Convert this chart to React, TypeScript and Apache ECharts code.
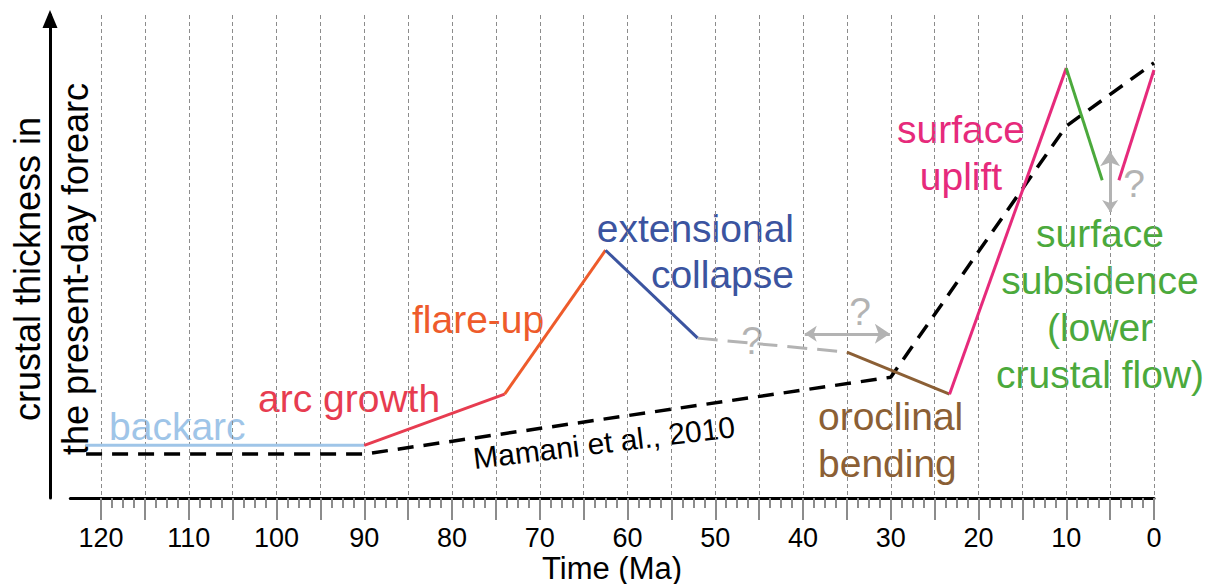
import React, { useEffect, useRef } from "react";
import * as echarts from "echarts";

const FONT = "'Liberation Sans', Arial, Helvetica, sans-serif";

// x: time (Ma), y: relative crustal thickness (arbitrary units 0–100)
const backarc = [[121.8, 10.9], [90, 10.9]];
const mamani2010 = [[121.7, 9.1], [90, 9.1], [30, 25.0], [10, 77.0], [0, 90.1]];
const arcGrowth = [[90, 10.9], [74, 21.5]];
const flareUp = [[74, 21.5], [62.5, 51.3]];
const extensionalCollapse = [[62.5, 51.3], [52, 33.1]];
const uncertainLink = [[52, 33.1], [35, 30.2]];
const oroclinalBending = [[35, 30.2], [23.3, 21.5]];
const surfaceUplift = [[23.3, 21.5], [10, 89.0]];
const surfaceSubsidence = [[10, 89.0], [5.9, 65.8]];
const surfaceUpliftLate = [[4.0, 65.8], [0, 88.6]];
const timingArrow = [[39.8, 34.0], [30.1, 34.0]];
const elevationArrow = [[5, 59.2], [5, 71.8]];

const timeAxisMax = 123.5; // full length of the drawn time axis
const labelledMax = 120; // last ticked / labelled age
const xLabelStep = 10;

const COLORS = {
  backarc: "#9fc5e8",
  arc: "#e73c50",
  flare: "#ee5b2b",
  ext: "#3b54a0",
  gray: "#b3b3b3",
  brown: "#8b5f35",
  pink: "#e62a7b",
  green: "#4ba93c",
  tick: "#8c8c8c",
};

type Lbl = { lines: string[]; color: string; x: number; y: number; align: string; size: number; gap: number };

const curveLabels: Lbl[] = [
  { lines: ["backarc"], color: COLORS.backarc, x: 109, y: 440, align: "left", size: 39, gap: 47 },
  { lines: ["arc growth"], color: COLORS.arc, x: 258, y: 412, align: "left", size: 39, gap: 47 },
  { lines: ["flare-up"], color: COLORS.flare, x: 412, y: 333, align: "left", size: 39, gap: 47 },
  { lines: ["extensional", "collapse"], color: COLORS.ext, x: 794, y: 242, align: "right", size: 39, gap: 46.5 },
  { lines: ["oroclinal", "bending"], color: COLORS.brown, x: 818, y: 430, align: "left", size: 39, gap: 46.7 },
  { lines: ["surface", "uplift"], color: COLORS.pink, x: 961, y: 143.3, align: "center", size: 39, gap: 46.7 },
  { lines: ["surface", "subsidence", "(lower", "crustal flow)"], color: COLORS.green, x: 1100, y: 246.7, align: "center", size: 39, gap: 47 },
  { lines: ["?"], color: COLORS.gray, x: 752, y: 354, align: "center", size: 39, gap: 0 },
  { lines: ["?"], color: COLORS.gray, x: 860, y: 325, align: "center", size: 39, gap: 0 },
  { lines: ["?"], color: COLORS.gray, x: 1134, y: 197, align: "center", size: 39, gap: 0 },
];

function textEl(text: string, x: number, y: number, color: string, size: number, align: string, rotation = 0) {
  return {
    type: "text",
    x,
    y,
    rotation,
    silent: true,
    style: {
      text,
      fill: color,
      font: `${size}px ${FONT}`,
      align,
      textAlign: align,
      verticalAlign: "middle",
      textVerticalAlign: "middle",
    },
  };
}

function seg(name: string, data: number[][], color: string, extra: any = {}) {
  return {
    type: "line",
    name,
    data,
    xAxisIndex: 0,
    yAxisIndex: 0,
    symbol: "none",
    clip: false,
    silent: true,
    lineStyle: { color, width: 3, cap: "butt" },
    ...extra,
  };
}

export default function App() {
  const ref = useRef<HTMLDivElement>(null);
  useEffect(() => {
    if (!ref.current) return;
    const chart = echarts.init(ref.current, undefined, { renderer: "svg" });

    const pxPerMa = (1154 - 101) / labelledMax;
    const dataLeft = 1154 - timeAxisMax * pxPerMa;

    const graphics: any[] = [];
    curveLabels.forEach((l) => {
      l.lines.forEach((t, i) => {
        const base = l.y + i * l.gap;
        graphics.push(textEl(t, l.x, base - 0.35 * l.size, l.color, l.size, l.align));
      });
    });
    const ang = (7 * Math.PI) / 180;
    graphics.push(textEl("Mamani et al., 2010", 604, 442.6, "#000", 30, "center", ang));
    graphics.push(textEl("crustal thickness in", 40 - 12.6, 269, "#000", 36, "center", Math.PI / 2));
    graphics.push(textEl("the present-day forearc", 88 - 12.6, 269, "#000", 36, "center", Math.PI / 2));
    graphics.push(textEl("Time (Ma)", 612, 568, "#000", 31, "center"));

    chart.setOption({
      animation: false,
      grid: [
        { left: dataLeft, right: 59, top: 15, bottom: 86, containLabel: false },
        { left: 101, right: 59, top: 15, bottom: 86, containLabel: false },
      ],
      xAxis: [
        {
          gridIndex: 0,
          type: "value",
          min: 0,
          max: timeAxisMax,
          inverse: true,
          axisLine: { show: true, onZero: false, lineStyle: { color: "#000", width: 3 } },
          axisTick: { show: false },
          axisLabel: { show: false },
          splitLine: { show: false },
        },
        {
          gridIndex: 1,
          type: "value",
          min: 0,
          max: labelledMax,
          interval: 5,
          inverse: true,
          axisLine: { show: false },
          axisTick: { show: true, length: 22, lineStyle: { color: COLORS.tick, width: 2 } },
          minorTick: { show: true, splitNumber: 4, length: 10, lineStyle: { color: COLORS.tick, width: 2 } },
          axisLabel: {
            formatter: (v: number) => (v % xLabelStep === 0 ? String(v) : ""),
            fontSize: 27,
            fontFamily: FONT,
            color: "#000",
            margin: 26,
          },
          splitLine: { show: true, lineStyle: { color: COLORS.tick, width: 1, type: [4, 3] } },
        },
      ],
      yAxis: [
        {
          gridIndex: 0,
          type: "value",
          min: 0,
          max: 100,
          offset: dataLeft - 50,
          axisLine: {
            show: true,
            onZero: false,
            symbol: ["none", "triangle"],
            symbolSize: [15, 18],
            symbolOffset: [0, -4],
            lineStyle: { color: "#000", width: 3 },
          },
          axisTick: { show: false },
          axisLabel: { show: false },
          splitLine: { show: false },
        },
        { gridIndex: 1, type: "value", min: 0, max: 100, show: false },
      ],
      series: [
        seg("Mamani et al., 2010", mamani2010, "#000", {
          lineStyle: { color: "#000", width: 3.5, type: [16, 10], cap: "butt" },
        }),
        seg("backarc", backarc, COLORS.backarc),
        seg("arc growth", arcGrowth, COLORS.arc),
        seg("flare-up", flareUp, COLORS.flare),
        seg("extensional collapse", extensionalCollapse, COLORS.ext),
        seg("uncertain", uncertainLink, COLORS.gray, {
          lineStyle: { color: COLORS.gray, width: 3, type: [20, 10], cap: "butt" },
        }),
        seg("oroclinal bending", oroclinalBending, COLORS.brown),
        seg("surface uplift", surfaceUplift, COLORS.pink),
        seg("surface subsidence", surfaceSubsidence, COLORS.green),
        seg("surface uplift (late)", surfaceUpliftLate, COLORS.pink),
        {
          type: "lines",
          coordinateSystem: "cartesian2d",
          xAxisIndex: 0,
          yAxisIndex: 0,
          silent: true,
          symbol: ["arrow", "arrow"],
          symbolSize: [12, 15],
          lineStyle: { color: COLORS.gray, width: 3, opacity: 1, curveness: 0 },
          data: [{ coords: timingArrow }, { coords: elevationArrow }],
        },
      ],
      graphic: graphics,
    });
    return () => chart.dispose();
  }, []);
  return (
    <div
      ref={ref}
      style={{ position: "fixed", left: 0, top: 0, width: 1213, height: 584, background: "#fff" }}
    />
  );
}
